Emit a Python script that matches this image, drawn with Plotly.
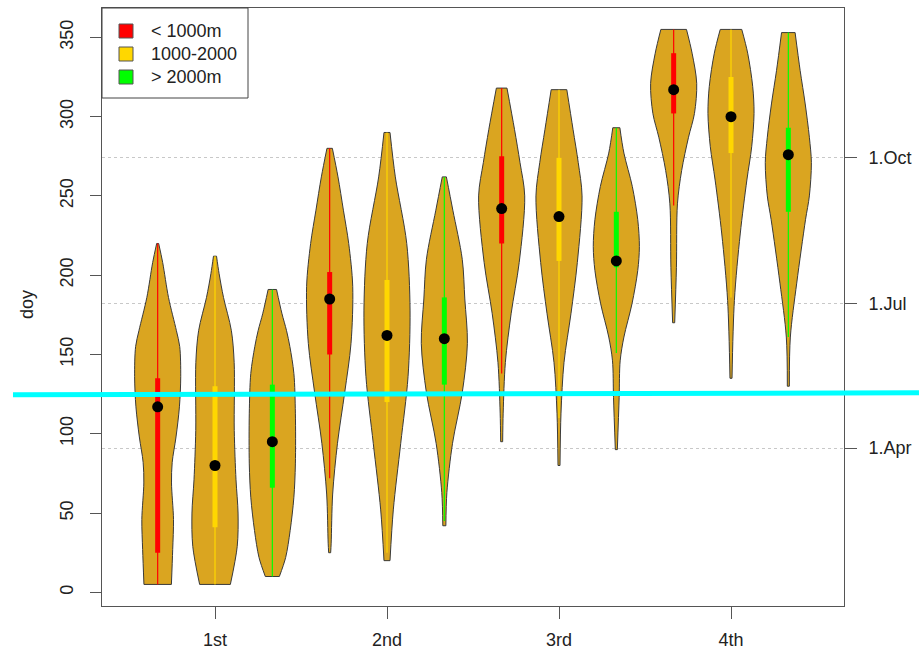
import plotly.graph_objects as go

# ---- data -------------------------------------------------------------
quarters = ["1st", "2nd", "3rd", "4th"]
classes = ["< 1000m", "1000-2000", "> 2000m"]
class_colors = ["#FF0000", "#FFD700", "#00FF00"]
season_days = [91, 182, 274]
season_labels = ["1.Apr", "1.Jul", "1.Oct"]

# one entry per violin: quarter by quarter, classes in order
medians = [117, 80, 95, 185, 162, 160, 242, 237, 209, 317, 300, 276]
q1 = [25, 41, 66, 150, 120, 131, 220, 209, 205, 302, 277, 240]
q3 = [135, 130, 131, 202, 197, 186, 275, 274, 240, 340, 325, 293]
whisk_lo = [5, 5, 10, 72, 25, 45, 138, 110, 151, 244, 186, 161]
whisk_hi = [220, 212, 191, 280, 290, 262, 318, 317, 293, 355, 355, 353]

# density profiles (doy level, relative density)
dens_y = [
    [5, 27, 46, 69, 82, 98, 117, 136, 155, 165, 186, 208, 220],
    [5, 29, 50, 71, 102, 145, 165, 186, 201, 212],
    [10, 22, 39, 60, 81, 113, 138, 155, 165, 176, 191],
    [25, 31, 62, 94, 126, 157, 193, 220, 241, 262, 280],
    [20, 52, 94, 136, 178, 220, 262, 290],
    [42, 63, 94, 126, 157, 185, 210, 241, 262],
    [95, 113, 145, 176, 208, 250, 271, 292, 318],
    [80, 113, 145, 176, 208, 250, 271, 292, 317],
    [90, 123, 146, 161, 182, 203, 218, 235, 256, 277, 293],
    [170, 205, 245, 266, 287, 302, 321, 340, 355],
    [135, 184, 226, 260, 281, 302, 319, 340, 355],
    [130, 161, 195, 235, 250, 271, 287, 308, 329, 353],
]
dens_w = [
    [13.7, 15, 15.8, 13.8, 14.5, 18.3, 21.7, 23, 22, 18.7, 10.8, 5, 1],
    [15, 21.7, 22.5, 20.5, 18.8, 18.7, 16, 8.3, 4, 1.5],
    [7, 13.3, 17.8, 21.5, 23, 23, 21.5, 17.5, 14.2, 9.5, 4.2],
    [1, 1.5, 3, 7.8, 15, 21.3, 23, 19, 13.7, 8.3, 2.7],
    [3, 6.3, 13.7, 21, 23, 19.7, 8.3, 3],
    [1.5, 2.5, 8, 17.5, 22.5, 20, 17.5, 8.3, 2],
    [1, 1.5, 3.7, 9.5, 17.5, 23, 18.3, 12.8, 5.3],
    [1, 2, 5, 12, 18.3, 23, 19.2, 14, 7.8],
    [1, 2.8, 3.8, 7.5, 15.5, 21.2, 22.8, 21.2, 15.8, 7.5, 3.5],
    [1, 2.7, 3.7, 7.8, 14.5, 20.3, 22.5, 18, 12.5],
    [1, 3.3, 9, 15.5, 20.2, 22.5, 21.2, 16.3, 10.5],
    [1, 2, 8.3, 17, 20.8, 22.8, 20.8, 16.7, 11.7, 6.7],
]

# ---- geometry / style ---------------------------------------------------
FONT = "Liberation Sans, Arial, sans-serif"
FILL = "#DAA520"
EDGE = "#3a3a3a"
HALF_MAX = 0.134          # half width of the widest part of a violin (x units)
OFFSETS = [-1 / 3, 0, 1 / 3]
X_RANGE = [0.343, 4.657]
Y_RANGE = [-8.6, 368.5]

W, H = 919, 650
L, R, T, B = 102, 75, 8, 44
PW, PH = W - L - R, H - T - B


def px_x(px):
    return (px - L) / PW


def px_y(py):
    return (H - B - py) / PH


fig = go.Figure()
side_line = dict(color=EDGE, width=1, shape="spline", smoothing=0.9)

for i in range(12):
    g, c = divmod(i, 3)
    xc = g + 1 + OFFSETS[c]
    col = class_colors[c]
    ys = dens_y[i]
    dmax = max(dens_w[i])
    hw = [d / dmax * HALF_MAX for d in dens_w[i]]
    # left outline, then right outline filled back to it
    fig.add_trace(go.Scatter(
        x=[xc - h for h in hw], y=ys, mode="lines", line=side_line,
        hoverinfo="skip", showlegend=False))
    fig.add_trace(go.Scatter(
        x=[xc + h for h in hw], y=ys, mode="lines", line=side_line,
        fill="tonextx", fillcolor=FILL, hoverinfo="skip", showlegend=False))
    # flat ends of the violin
    for k in (0, -1):
        fig.add_trace(go.Scatter(
            x=[xc - hw[k], xc + hw[k]], y=[ys[k], ys[k]], mode="lines",
            line=dict(color=EDGE, width=1), hoverinfo="skip",
            showlegend=False))
    # whisker
    fig.add_trace(go.Scatter(
        x=[xc, xc], y=[whisk_lo[i], whisk_hi[i]], mode="lines",
        line=dict(color=col, width=1.2), hoverinfo="skip", showlegend=False))
    # inter-quartile range
    fig.add_trace(go.Scatter(
        x=[xc, xc], y=[q1[i], q3[i]], mode="lines",
        line=dict(color=col, width=5), hoverinfo="skip", showlegend=False))
    # median
    fig.add_trace(go.Scatter(
        x=[xc], y=[medians[i]], mode="markers",
        marker=dict(color="black", size=11), hoverinfo="skip",
        showlegend=False))

# carrier for the right-hand date axis
fig.add_trace(go.Scatter(x=[None], y=[None], yaxis="y2", showlegend=False,
                         hoverinfo="skip"))

shapes = []
# legend box
shapes.append(dict(type="rect", xref="paper", yref="paper",
                   x0=px_x(102), x1=px_x(248), y0=px_y(98), y1=px_y(8),
                   line=dict(color="#444", width=1), fillcolor="white",
                   layer="above"))
annotations = []
for k, (lab, col) in enumerate(zip(classes, class_colors)):
    cy = 31 + 23 * k
    shapes.append(dict(type="rect", xref="paper", yref="paper",
                       x0=px_x(119), x1=px_x(133),
                       y0=px_y(cy + 7), y1=px_y(cy - 7),
                       line=dict(color="#555", width=1), fillcolor=col,
                       layer="above"))
    annotations.append(dict(text=lab, xref="paper", yref="paper",
                            x=px_x(149), y=px_y(cy), xanchor="left",
                            yanchor="middle", showarrow=False,
                            font=dict(family=FONT, size=18, color="#222")))

# cyan marker line across the figure
shapes.append(dict(type="line", xref="paper", yref="paper",
                   x0=px_x(13), x1=px_x(919), y0=px_y(394.7), y1=px_y(392.8),
                   line=dict(color="#00FFFF", width=5), layer="above"))

annotations.append(dict(text="doy", xref="paper", yref="paper",
                        x=px_x(27), y=px_y(305), textangle=-90,
                        xanchor="center", yanchor="middle", showarrow=False,
                        font=dict(family=FONT, size=18, color="#222")))

axis_font = dict(family=FONT, size=18, color="#222")

fig.update_layout(
    width=W, height=H,
    margin=dict(l=L, r=R, t=T, b=B, pad=0, autoexpand=False),
    paper_bgcolor="white", plot_bgcolor="white",
    showlegend=False,
    shapes=shapes, annotations=annotations,
    xaxis=dict(range=X_RANGE, tickvals=[1, 2, 3, 4], ticktext=quarters,
               ticks="outside", ticklen=12, tickcolor="#555",
               showline=True, linecolor="#555", linewidth=1, mirror=True,
               showgrid=False, zeroline=False, tickfont=axis_font,
               ticklabelstandoff=5, automargin=False),
    yaxis=dict(range=Y_RANGE, tickvals=list(range(0, 351, 50)),
               ticks="outside", ticklen=11, tickcolor="#555",
               showline=True, linecolor="#555", linewidth=1, mirror=True,
               showgrid=False, zeroline=False, tickangle=-90,
               tickfont=axis_font, ticklabelstandoff=10, automargin=False),
    yaxis2=dict(range=Y_RANGE, overlaying="y", side="right",
                tickvals=season_days, ticktext=season_labels,
                ticks="outside", ticklen=12, tickcolor="#555",
                showline=False, zeroline=False, showgrid=True,
                gridcolor="#c8c8c8", griddash="dot", gridwidth=1,
                tickfont=axis_font, ticklabelstandoff=8, automargin=False),
)

fig.write_html("out.html")
